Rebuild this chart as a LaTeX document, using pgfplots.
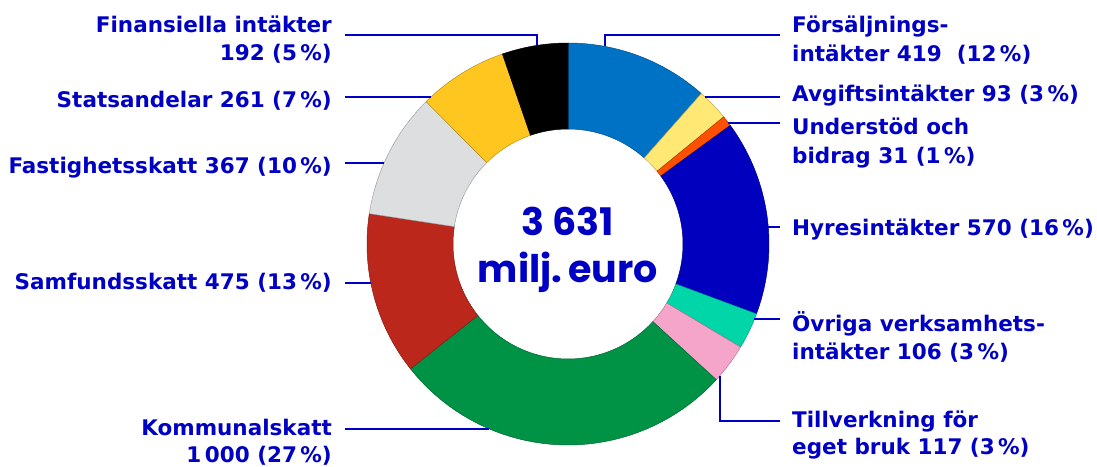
\documentclass[border=0pt]{standalone}
\usepackage{pgfplots}
\pgfplotsset{compat=1.18}
\usepackage{fontspec}
\setmainfont{DejaVu Sans}
\newfontfamily\cfont{Poppins}
\definecolor{tb}{HTML}{0000C4}
\definecolor{cFors}{HTML}{0072C6}
\definecolor{cAvg}{HTML}{FFE873}
\definecolor{cUnd}{HTML}{FF5000}
\definecolor{cHyr}{HTML}{0000BE}
\definecolor{cOvr}{HTML}{00D6A8}
\definecolor{cTill}{HTML}{F5A5CA}
\definecolor{cKom}{HTML}{009245}
\definecolor{cSam}{HTML}{BB271A}
\definecolor{cFas}{HTML}{DDDEE0}
\definecolor{cSta}{HTML}{FFC620}
\definecolor{cFin}{HTML}{000000}
\newcommand\ts{\kern0.16em}
\newcommand\lab{\fontsize{21.5}{25}\selectfont\bfseries}
% #1 cumulative start, #2 value, #3 colour
\newcommand\slice[3]{%
 \addplot[fill=#3, draw=#3!72!black, line width=0.5pt, variable=\t,
   samples at={0,1,...,40,100,101,...,140}]
 ({568+ifthenelse(\t<50,201,115)*cos(ifthenelse(\t<50,90-360*(#1+#2*\t/40)/3631,90-360*(#1+#2-#2*(\t-100)/40)/3631))},
  {244-ifthenelse(\t<50,201,115)*sin(ifthenelse(\t<50,90-360*(#1+#2*\t/40)/3631,90-360*(#1+#2-#2*(\t-100)/40)/3631))}) -- cycle;}
\begin{document}
\begin{tikzpicture}
\begin{axis}[x=1pt, y=1pt, xmin=0, xmax=1097, ymin=0, ymax=466, y dir=reverse,
  hide axis, clip=false]
\path (rel axis cs:0,0) rectangle (rel axis cs:1,1);
% slices: start, value, colour
\slice{0}{419}{cFors}
\slice{419}{93}{cAvg}
\slice{512}{31}{cUnd}
\slice{543}{570}{cHyr}
\slice{1113}{106}{cOvr}
\slice{1219}{117}{cTill}
\slice{1336}{1000}{cKom}
\slice{2336}{475}{cSam}
\slice{2811}{367}{cFas}
\slice{3178}{261}{cSta}
\slice{3439}{192}{cFin}
% leader lines
\pgfplotsset{lead/.style={draw=tb, line width=2.4pt, mark=none}}
\addplot[lead] coordinates {(345,35) (537,35) (537,46)};
\addplot[lead] coordinates {(345,97) (431,97)};
\addplot[lead] coordinates {(345,163) (384,163)};
\addplot[lead] coordinates {(345,283) (371,283)};
\addplot[lead] coordinates {(345,429) (489,429)};
\addplot[lead] coordinates {(780,35) (605,35) (605,46)};
\addplot[lead] coordinates {(780,97) (705,97)};
\addplot[lead] coordinates {(780,123) (728,123)};
\addplot[lead] coordinates {(780,227) (768,227)};
\addplot[lead] coordinates {(780,319) (754,319)};
\addplot[lead] coordinates {(720,376) (720,421) (780,421)};
% left labels
\begin{scope}[every node/.style={inner sep=0pt, text=tb, font=\lab}]
\node[anchor=base east] at (axis cs:332,32) {Finansiella intäkter};
\node[anchor=base east] at (axis cs:332,60) {192 (5\ts\%)};
\node[anchor=base east] at (axis cs:332,107) {Statsandelar 261 (7\ts\%)};
\node[anchor=base east] at (axis cs:332,173) {Fastighetsskatt 367 (10\ts\%)};
\node[anchor=base east] at (axis cs:332,289) {Samfundsskatt 475 (13\ts\%)};
\node[anchor=base east] at (axis cs:332,435) {Kommunalskatt};
\node[anchor=base east] at (axis cs:332,462) {1\ts000 (27\ts\%)};
% right labels
\node[anchor=base west] at (axis cs:792,32) {Försäljnings-};
\node[anchor=base west] at (axis cs:792,61) {intäkter 419\ \ (12\ts\%)};
\node[anchor=base west] at (axis cs:792,101) {Avgiftsintäkter 93 (3\ts\%)};
\node[anchor=base west] at (axis cs:792,134) {Understöd och};
\node[anchor=base west] at (axis cs:792,163) {bidrag 31 (1\ts\%)};
\node[anchor=base west] at (axis cs:792,235) {Hyresintäkter 570 (16\ts\%)};
\node[anchor=base west] at (axis cs:792,331) {Övriga verksamhets-};
\node[anchor=base west] at (axis cs:792,359) {intäkter 106 (3\ts\%)};
\node[anchor=base west] at (axis cs:792,427) {Tillverkning för};
\node[anchor=base west] at (axis cs:792,454) {eget bruk 117 (3\ts\%)};
% centre
\node[anchor=base, font=\cfont\fontsize{38}{44}\selectfont\bfseries] at (axis cs:568,235) {3\kern0.2em631};
\node[anchor=base, font=\cfont\fontsize{38}{44}\selectfont\bfseries] at (axis cs:568,282) {milj.\kern0.16em euro};
\end{scope}
\end{axis}
\end{tikzpicture}
\end{document}
